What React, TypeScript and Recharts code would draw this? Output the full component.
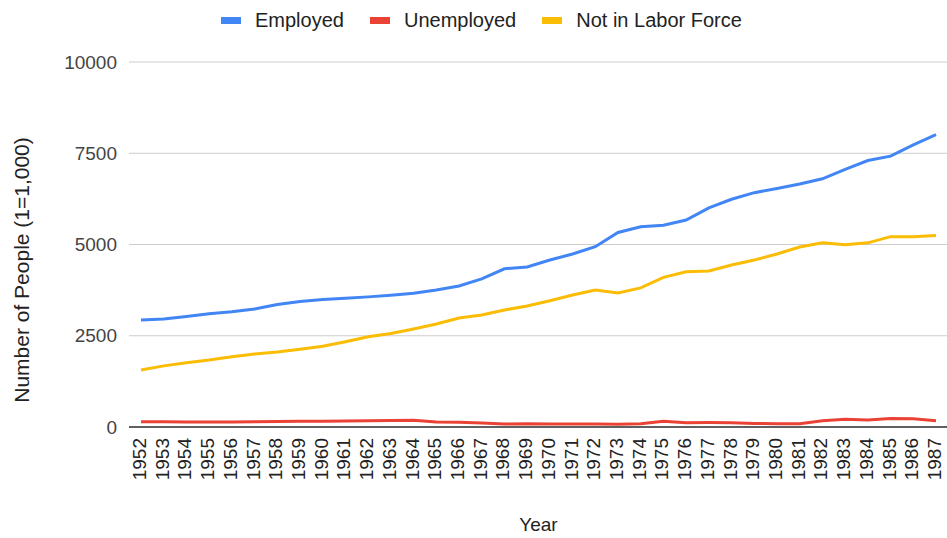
import React from "react";
import { LineChart, Line, XAxis, YAxis, CartesianGrid, Legend, Label } from "recharts";

const years: string[] = [
  "1952","1953","1954","1955","1956","1957","1958","1959","1960","1961","1962","1963",
  "1964","1965","1966","1967","1968","1969","1970","1971","1972","1973","1974","1975",
  "1976","1977","1978","1979","1980","1981","1982","1983","1984","1985","1986","1987",
];

const employed: number[] = [
  2932, 2960, 3025, 3100, 3160, 3235, 3355, 3440, 3490, 3525, 3565, 3610,
  3665, 3755, 3865, 4060, 4335, 4385, 4575, 4740, 4940, 5330, 5485, 5530,
  5670, 6005, 6240, 6420, 6535, 6660, 6800, 7060, 7300, 7420, 7730, 8010,
];

const unemployed: number[] = [
  145, 145, 140, 138, 140, 145, 150, 155, 160, 165, 170, 175,
  185, 140, 130, 110, 80, 90, 85, 80, 80, 75, 90, 160,
  115, 120, 115, 95, 90, 90, 170, 215, 195, 235, 225, 170,
];

const notInLaborForce: number[] = [
  1560, 1675, 1760, 1835, 1925, 2000, 2055, 2130, 2215, 2335, 2470, 2560,
  2685, 2820, 2985, 3070, 3205, 3315, 3460, 3615, 3750, 3670, 3810, 4100,
  4255, 4275, 4440, 4575, 4740, 4930, 5050, 4990, 5045, 5215, 5210, 5245,
];

const yTicks: number[] = [0, 2500, 5000, 7500, 10000];

const seriesInfo = [
  { key: "employed", name: "Employed", color: "#4285F4" },
  { key: "unemployed", name: "Unemployed", color: "#EA4335" },
  { key: "notInLaborForce", name: "Not in Labor Force", color: "#FBBC04" },
];

const data = years.map((y, i) => ({
  year: y,
  employed: employed[i],
  unemployed: unemployed[i],
  notInLaborForce: notInLaborForce[i],
}));

const FONT = "Arial, 'Liberation Sans', sans-serif";

const XTick = (props: any) => {
  const { x, payload } = props;
  return (
    <g transform={`translate(${x},438)`}>
      <text
        transform="rotate(-90)"
        textAnchor="end"
        dy={5}
        fontSize={19}
        fontFamily={FONT}
        fill="#222"
      >
        {payload.value}
      </text>
    </g>
  );
};

const renderLegend = () => (
  <div
    style={{
      display: "flex",
      alignItems: "center",
      height: 40,
      paddingLeft: 221,
      fontFamily: FONT,
      fontSize: 20,
      color: "#222",
      boxSizing: "border-box",
    }}
  >
    {seriesInfo.map((s, i) => (
      <div
        key={s.key}
        style={{ display: "flex", alignItems: "center", marginLeft: i === 0 ? 0 : 26 }}
      >
        <div style={{ width: 20, height: 7, background: s.color, marginRight: 14 }} />
        <span style={{ whiteSpace: "nowrap" }}>{s.name}</span>
      </div>
    ))}
  </div>
);

export default function App() {
  return (
    <div style={{ position: "absolute", left: 0, top: 0, background: "#fff" }}>
      <LineChart
        width={947}
        height={538}
        data={data}
        margin={{ top: 22, right: -1, bottom: 0, left: 0 }}
      >
        <CartesianGrid vertical={false} stroke="#cccccc" />
        <Legend
          verticalAlign="top"
          content={renderLegend}
          wrapperStyle={{ top: 0, left: 0, width: 947, height: 40 }}
        />
        <XAxis
          dataKey="year"
          height={111}
          interval={0}
          padding={{ left: 12, right: 12 }}
          tickLine={false}
          axisLine={{ stroke: "#333333", strokeWidth: 1.5 }}
          tick={<XTick />}
        >
          <Label
            content={(p: any) => (
              <text
                x={p.viewBox.x + p.viewBox.width / 2}
                y={531}
                textAnchor="middle"
                fontSize={19}
                fontFamily={FONT}
                fill="#222"
              >
                Year
              </text>
            )}
          />
        </XAxis>
        <YAxis
          width={129}
          domain={[0, 10000]}
          ticks={yTicks}
          tickLine={false}
          axisLine={false}
          tickSize={0}
          tickMargin={12}
          tick={{ fontSize: 19, fontFamily: FONT, fill: "#444" }}
        >
          <Label
            content={() => (
              <text
                x={22}
                y={270}
                transform="rotate(-90, 22, 270)"
                textAnchor="middle"
                dy={7}
                fontSize={21}
                fontFamily={FONT}
                fill="#222"
              >
                Number of People (1=1,000)
              </text>
            )}
          />
        </YAxis>
        {seriesInfo.map((s) => (
          <Line
            key={s.key}
            type="linear"
            dataKey={s.key}
            name={s.name}
            stroke={s.color}
            strokeWidth={3}
            dot={false}
            activeDot={false}
            isAnimationActive={false}
          />
        ))}
      </LineChart>
    </div>
  );
}
